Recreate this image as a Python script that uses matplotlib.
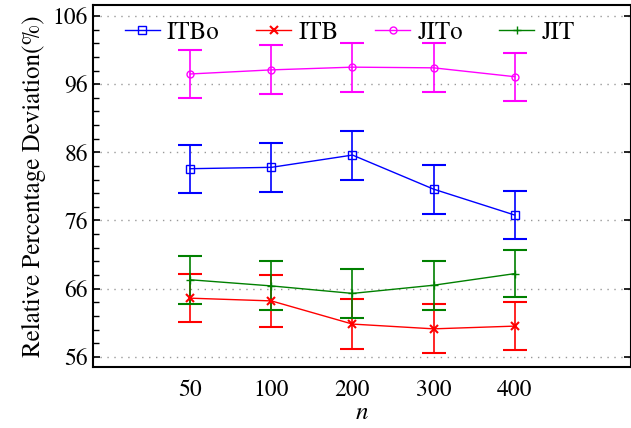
import matplotlib
matplotlib.use("Agg")
import matplotlib.pyplot as plt
from matplotlib.ticker import MultipleLocator

plt.rcParams['font.family'] = ['TeX Gyre Termes', 'STIX Two Text', 'DejaVu Serif']
plt.rcParams['mathtext.fontset'] = 'stix'

n_labels = ['50', '100', '200', '300', '400']

itbo = [83.6, 83.8, 85.6, 80.6, 76.8]
itbo_err = [3.5, 3.6, 3.6, 3.6, 3.5]
itb = [64.6, 64.2, 60.8, 60.1, 60.5]
itb_err = [3.5, 3.8, 3.7, 3.6, 3.5]
jito = [97.5, 98.1, 98.5, 98.4, 97.1]
jito_err = [3.5, 3.6, 3.6, 3.6, 3.5]
jit = [67.3, 66.4, 65.3, 66.5, 68.2]
jit_err = [3.5, 3.6, 3.6, 3.6, 3.5]

fig = plt.figure(figsize=(6.31, 4.28), dpi=100)
ax = fig.add_axes([0.1474, 0.1425, 0.852, 0.8455])

x = list(range(len(n_labels)))
series = [
    ('ITBo', itbo, itbo_err, 'blue', 's', dict(mfc='none', ms=6)),
    ('ITB', itb, itb_err, 'red', 'x', dict(ms=6, mew=1.5)),
    ('JITo', jito, jito_err, 'magenta', 'o', dict(mfc='none', ms=5)),
    ('JIT', jit, jit_err, 'green', '+', dict(ms=6)),
]
handles = []
for name, vals, errs, col, mk, kw in series:
    c = ax.errorbar(x, vals, yerr=errs, color=col, marker=mk, lw=1.0,
                    elinewidth=1.2, capsize=8.5, capthick=1.5, ecolor=col,
                    label=name, **kw)
    handles.append(c[0])

ax.set_xlim(-1.2, 5.43)
ax.set_ylim(54.5, 107.6)
ax.set_xticks(x)
ax.set_xticklabels(n_labels)
ax.yaxis.set_minor_locator(MultipleLocator(2))
ax.set_yticks(range(56, 107, 10))
ax.tick_params(axis='x', length=0, labelsize=17, pad=9)
ax.tick_params(axis='y', which='major', direction='in', length=5, width=1.2,
               labelsize=17, right=True)
ax.tick_params(axis='y', which='minor', direction='in', length=4, width=1)
ax.yaxis.grid(True, which='major', linestyle=(0, (1, 4)), color='#999999', lw=1)

for s in ['top', 'bottom', 'left', 'right']:
    ax.spines[s].set_linewidth(1.5)

ax.set_xlabel('$n$', fontsize=18, labelpad=0)
ax.set_ylabel('Relative Percentage Deviation(%)', fontsize=18, labelpad=5)

ax.legend(handles, [s[0] for s in series], loc='upper left',
          bbox_to_anchor=(0.04, 0.985), ncol=4, frameon=False,
          fontsize=18, handlelength=1.4, handletextpad=0.3, columnspacing=1.45,
          borderaxespad=0)

plt.savefig('out.png', dpi=100)
